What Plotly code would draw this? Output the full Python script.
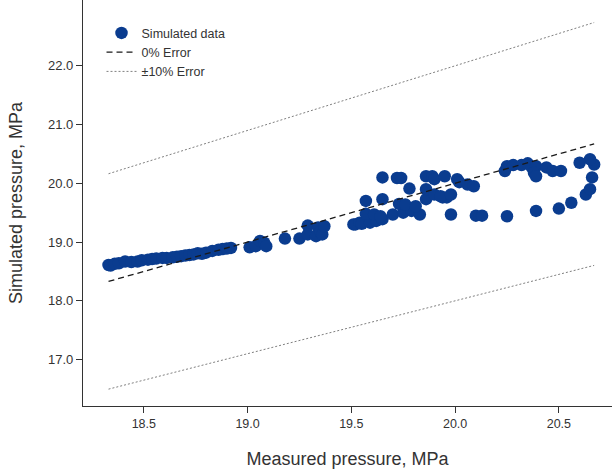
import numpy as np
import plotly.graph_objects as go

# Measured vs simulated bottom-hole pressure (MPa)
measured = [
    18.33, 18.34, 18.36, 18.38, 18.41, 18.44, 18.47, 18.49, 18.52, 18.54,
    18.56, 18.59, 18.61, 18.64, 18.66, 18.68, 18.70, 18.72, 18.74, 18.76,
    18.78, 18.80, 18.83, 18.86, 18.88, 18.90, 18.92,
    19.01, 19.04, 19.06, 19.08, 19.09, 19.18, 19.25, 19.29, 19.29, 19.33,
    19.34, 19.35, 19.36, 19.37,
    19.51, 19.52, 19.54, 19.55, 19.59, 19.62, 19.65, 19.57, 19.65, 19.57,
    19.61, 19.64, 19.70, 19.75, 19.79, 19.83, 19.73, 19.76, 19.81, 19.86,
    19.78, 19.65, 19.72, 19.74, 19.86, 19.89, 19.90, 19.95, 19.86, 19.90,
    19.94, 19.96, 19.93, 19.98, 20.01, 20.02, 20.06, 20.09,
    19.98, 20.10, 20.13, 20.25, 20.39, 20.50, 20.56, 20.63, 20.65, 20.66,
    20.67, 20.65, 20.60,
    20.25, 20.24, 20.28, 20.32, 20.35, 20.37, 20.39, 20.38, 20.39, 20.44,
    20.47, 20.51,
]
simulated = [
    18.61, 18.60, 18.63, 18.64, 18.67, 18.66, 18.67, 18.69, 18.70, 18.71,
    18.72, 18.73, 18.73, 18.74, 18.75, 18.76, 18.77, 18.78, 18.79, 18.81,
    18.80, 18.82, 18.85, 18.87, 18.88, 18.89, 18.90,
    18.91, 18.93, 19.02, 18.99, 18.93, 19.06, 19.06, 19.28, 19.13, 19.10,
    19.25, 19.18, 19.13, 19.27,
    19.30, 19.30, 19.33, 19.31, 19.33, 19.36, 19.39, 19.70, 19.73, 19.48,
    19.47, 19.44, 19.47, 19.50, 19.53, 19.47, 19.65, 19.64, 19.61, 19.73,
    19.91, 20.10, 20.09, 20.09, 20.12, 20.12, 20.07, 20.12, 19.90, 19.81,
    19.76, 19.76, 19.78, 19.81, 20.07, 20.02, 19.98, 19.95,
    19.47, 19.45, 19.45, 19.44, 19.53, 19.57, 19.67, 19.81, 19.90, 20.10,
    20.32, 20.41, 20.35,
    20.29, 20.21, 20.31, 20.31, 20.34, 20.27, 20.29, 20.18, 20.12, 20.27,
    20.21, 20.21,
]

x_ticks = [18.5, 19.0, 19.5, 20.0, 20.5]
y_ticks = [17.0, 18.0, 19.0, 20.0, 21.0, 22.0]

# Reference lines span the measured range
line_x = np.array([min(measured), max(measured)])

font_family = "Liberation Sans, Arial, sans-serif"
ink = "#333333"
blue = "#0A3C8F"

fig = go.Figure()
fig.add_trace(go.Scatter(
    x=measured, y=simulated, mode="markers", name="Simulated data",
    marker=dict(color=blue, size=12.5, line=dict(width=0)),
))
fig.add_trace(go.Scatter(
    x=line_x, y=line_x, mode="lines", name="0% Error",
    line=dict(color="#1a1a1a", width=1.3, dash="6px,4px"),
))
fig.add_trace(go.Scatter(
    x=line_x, y=line_x * 1.1, mode="lines", name="\u00b110% Error",
    line=dict(color="#808080", width=1, dash="2px,2px"),
))
fig.add_trace(go.Scatter(
    x=line_x, y=line_x * 0.9, mode="lines", showlegend=False,
    line=dict(color="#808080", width=1, dash="2px,2px"),
))

fig.update_layout(
    width=612, height=472,
    margin=dict(l=83, r=0, t=0, b=66),
    paper_bgcolor="white", plot_bgcolor="white",
    font=dict(family=font_family, color=ink, size=12.5),
    legend=dict(
        x=0.035, y=0.955, xanchor="left", yanchor="top",
        bgcolor="rgba(0,0,0,0)", font=dict(size=12.5),
        tracegroupgap=0,
    ),
    xaxis=dict(
        range=[18.207, 20.756], tickvals=x_ticks, tickformat=".1f",
        showgrid=False, zeroline=False,
        showline=True, linecolor=ink, linewidth=1.2,
        ticks="outside", ticklen=6, tickcolor=ink, tickwidth=1.2,
        tickfont=dict(size=12.5),
        title=dict(text="Measured pressure, MPa", font=dict(size=18), standoff=22),
    ),
    yaxis=dict(
        range=[16.21, 23.12], tickvals=y_ticks, tickformat=".1f",
        showgrid=False, zeroline=False,
        showline=True, linecolor=ink, linewidth=1.2,
        ticks="outside", ticklen=6, tickcolor=ink, tickwidth=1.2,
        tickfont=dict(size=13),
        title=dict(text="Simulated pressure, MPa", font=dict(size=18), standoff=20),
    ),
)

fig.write_html("out.html")
